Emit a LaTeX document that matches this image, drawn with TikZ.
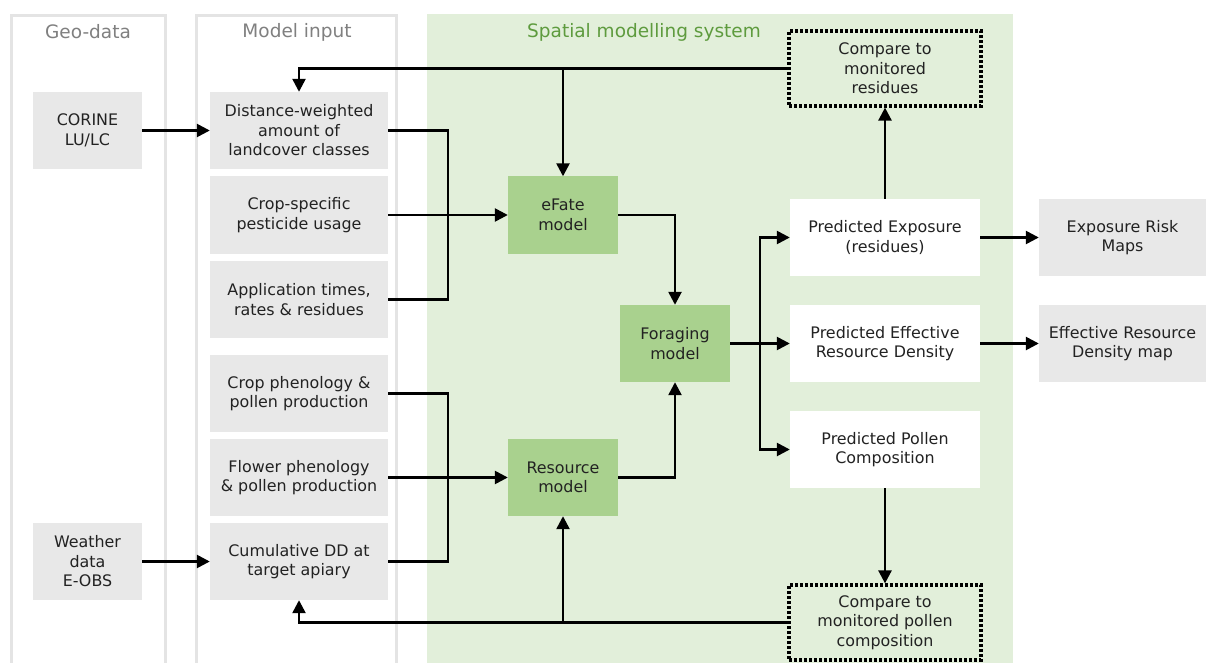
\documentclass[tikz,border=0pt]{standalone}
\usepackage{fontspec}
\setmainfont{DejaVu Sans}
\usetikzlibrary{arrows.meta}
\definecolor{boxgray}{HTML}{E8E8E8}
\definecolor{panelgray}{HTML}{E4E4E4}
\definecolor{panelgreen}{HTML}{E2EFDA}
\definecolor{boxgreen}{HTML}{A9D18E}
\definecolor{titlegreen}{HTML}{5E9B3E}
\definecolor{titlegray}{HTML}{808080}
\definecolor{txt}{HTML}{222222}
\tikzset{
  base/.style={minimum height=77pt, inner sep=0pt, align=center, text=txt,
    font=\fontsize{15.9}{19.5}\selectfont},
  graybox/.style={base, fill=boxgray},
  greenbox/.style={base, fill=boxgreen, minimum width=110pt},
  whitebox/.style={base, fill=white, minimum width=190pt},
  dotbox/.style={base, fill=panelgreen, minimum width=192pt, minimum height=75pt, draw=black,
    line width=3.2pt, dash pattern=on 2.8pt off 2.2pt},
  title/.style={font=\fontsize{18.5}{22}\selectfont},
  ln/.style={line width=2.5pt, draw=black},
  arr/.style={ln, -{Triangle[length=13pt,width=13pt]}},
  panel/.style={draw=panelgray, line width=3pt},
}
\begin{document}
\begin{tikzpicture}[x=1pt,y=-1pt]
\useasboundingbox (0,0) rectangle (1206,663);
\fill[white] (0,0) rectangle (1206,663);
% panels
\draw[panel] (11.5,663) -- (11.5,15.5) -- (165.5,15.5) -- (165.5,663);
\draw[panel] (196.5,663) -- (196.5,15.5) -- (396.5,15.5) -- (396.5,663);
\fill[panelgreen] (427,14) rectangle (1013,663);
\node[title, text=titlegray] (tgeo) at (88,32) {Geo-data};
\node[title, text=titlegray] (tmod) at (297,32) {Model input};
\node[title, text=titlegreen] (tsp) at (644,32) {Spatial modelling system};
% geo-data
\node[graybox, minimum width=109pt] (corine) at (87.5,130.5) {CORINE\\LU/LC};
\node[graybox, minimum width=109pt] (weather) at (87.5,561.5) {Weather\\data\\E-OBS};
% model input
\node[graybox, minimum width=178pt] (dw) at (299,130.5) {Distance-weighted\\amount of\\landcover classes};
\node[graybox, minimum width=178pt] (crop) at (299,215) {Crop-specific\\pesticide usage};
\node[graybox, minimum width=178pt] (app) at (299,299.5) {Application times,\\rates \& residues};
\node[graybox, minimum width=178pt] (cph) at (299,393.5) {Crop phenology \&\\pollen production};
\node[graybox, minimum width=178pt] (flow) at (299,477.5) {Flower phenology\\\& pollen production};
\node[graybox, minimum width=178pt] (cdd) at (299,561.5) {Cumulative DD at\\target apiary};
% models
\node[greenbox] (efate) at (563,215) {eFate\\model};
\node[greenbox] (forag) at (675,343.5) {Foraging\\model};
\node[greenbox] (res) at (563,477.5) {Resource\\model};
% predictions
\node[whitebox] (pexp) at (885,237.5) {Predicted Exposure\\(residues)};
\node[whitebox] (perd) at (885,343.5) {Predicted Effective\\Resource Density};
\node[whitebox] (ppol) at (885,449.5) {Predicted Pollen\\Composition};
\node[dotbox] (cmpres) at (885,68.5) {Compare to\\monitored\\residues};
\node[dotbox] (cmppol) at (885,622.5) {Compare to\\monitored pollen\\composition};
% maps
\node[graybox, minimum width=167pt] (erm) at (1122.5,237.5) {Exposure Risk\\Maps};
\node[graybox, minimum width=167pt] (erdm) at (1122.5,343.5) {Effective Resource\\Density map};
% connectors
\draw[arr] (corine) -- (dw);
\draw[arr] (weather) -- (cdd);
\draw[ln] (dw.east) -- ++(60,0) |- (app.east);
\draw[arr] (crop.east) -- (efate.west);
\draw[ln] (cph.east) -- ++(60,0) |- (cdd.east);
\draw[arr] (flow.east) -- (res.west);
\draw[arr] (efate.east) -| (forag.north);
\draw[arr] (res.east) -| (forag.south);
\draw[arr] (forag.east) -- (perd.west);
\draw[arr] (forag.east) -- ++(30,0) |- (pexp.west);
\draw[arr] (forag.east) -- ++(30,0) |- (ppol.west);
\draw[arr] (pexp.north) -- (cmpres.south);
\draw[arr] (ppol.south) -- (cmppol.north);
\draw[arr] (cmpres.west) -| (dw.north);
\draw[arr] (cmpres.west) -| (efate.north);
\draw[arr] (cmppol.west) -| (cdd.south);
\draw[arr] (cmppol.west) -| (res.south);
\draw[arr] (pexp.east) -- (erm.west);
\draw[arr] (perd.east) -- (erdm.west);
\end{tikzpicture}
\end{document}
